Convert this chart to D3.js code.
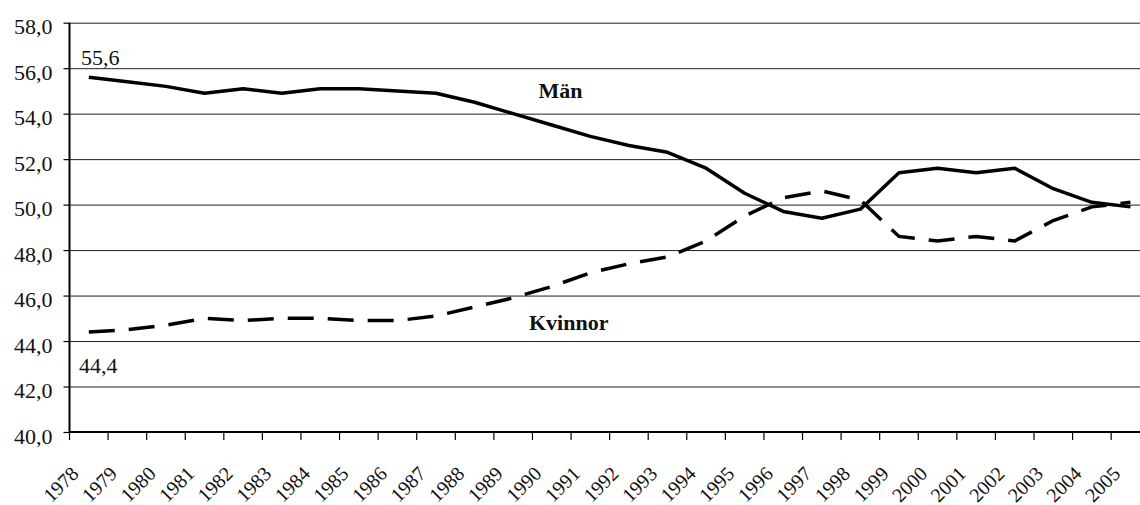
<!DOCTYPE html>
<html>
<head>
<meta charset="utf-8">
<script src="https://cdn.jsdelivr.net/npm/d3@7"></script>
<style>
  body { margin: 0; background: #fff; }
  svg { display: block; }
  svg text { font-family: "Liberation Serif", "Times New Roman", serif; fill: #111; }
</style>
</head>
<body>
<div id="container"></div>
<script>
/* DATA */
const years = ["1978","1979","1980","1981","1982","1983","1984","1985","1986","1987",
  "1988","1989","1990","1991","1992","1993","1994","1995","1996","1997",
  "1998","1999","2000","2001","2002","2003","2004","2005"]

const manValues = [55.6, 55.4, 55.2, 54.9, 55.1, 54.9, 55.1, 55.1, 55.0, 54.9,
  54.5, 54.0, 53.5, 53.0, 52.6, 52.3, 51.6, 50.5, 49.7, 49.4,
  49.8, 51.4, 51.6, 51.4, 51.6, 50.7, 50.1, 49.9]

const kvinnorValues = [44.4, 44.5, 44.7, 45.0, 44.9, 45.0, 45.0, 44.9, 44.9, 45.1,
  45.5, 45.9, 46.4, 47.0, 47.4, 47.7, 48.4, 49.5, 50.3, 50.6,
  50.2, 48.6, 48.4, 48.6, 48.4, 49.3, 49.9, 50.1]

const yTicks = [40, 42, 44, 46, 48, 50, 52, 54, 56, 58]

/* CONSTANTS AND GLOBALS */
var margin = {top: 22.7, left: 69.5},
    step = 38.58,
    width = years.length * step,   // runs past the right edge, as in the original
    height = 409.3;

const fmt = d => d.toFixed(1).replace(".", ",")

/* SCALES */
const xScale = d3.scaleBand()
  .domain(years)
  .range([0, width])

const yScale = d3.scaleLinear()
  .domain([40, 58])
  .range([height, 0])

/* HTML ELEMENTS */
const svg = d3.select("#container")
  .append("svg")
   .attr("width", 1140)
   .attr("height", 505)
  .append("g")
   .attr("transform", "translate(" + margin.left + "," + margin.top + ")")

// gridlines
svg.append("g")
  .call(d3.axisLeft(yScale).tickValues(yTicks).tickSize(-width).tickFormat(""))
  .call(g => g.select(".domain").remove())
  .call(g => g.selectAll("line").attr("stroke", "#222").attr("stroke-width", 1))

// y axis
svg.append("g")
  .call(d3.axisLeft(yScale).tickValues(yTicks).tickSize(6).tickPadding(11).tickFormat(fmt))
  .call(g => g.select(".domain").attr("stroke", "#000").attr("stroke-width", 2).attr("d", "M0," + height + "V0"))
  .call(g => g.selectAll("line").attr("stroke", "#000").attr("stroke-width", 1.2))
  .call(g => g.selectAll("text")
    .attr("font-size", 22)
    .attr("dy", "0.5em"))

// x axis
const xAxisGroup = svg.append("g")
  .attr("transform", "translate(0," + height + ")")
  .call(d3.axisBottom(xScale).tickSize(0))

xAxisGroup.select(".domain")
  .attr("stroke", "#000").attr("stroke-width", 2)
  .attr("d", "M0,0H" + width)

xAxisGroup.selectAll("text")
  .attr("font-size", 20)
  .attr("y", 0)
  .attr("dy", 0)
  .attr("text-anchor", "end")
  .attr("transform", "translate(-9,43) rotate(-45)")

// x ticks sit on the category boundaries
xAxisGroup.selectAll("line.boundary")
  .data(years)
  .join("line")
  .attr("class", "boundary")
  .attr("x1", d => xScale(d))
  .attr("x2", d => xScale(d))
  .attr("y1", 0)
  .attr("y2", 8)
  .attr("stroke", "#000")
  .attr("stroke-width", 1.2)

// lines
const line = d3.line()
  .x((d, i) => xScale(years[i]) + xScale.bandwidth() / 2)
  .y(d => yScale(d))

svg.append("path")
  .datum(kvinnorValues)
  .attr("d", line)
  .attr("fill", "none")
  .attr("stroke", "#000")
  .attr("stroke-width", 3.5)
  .attr("stroke-dasharray", "26,14")

svg.append("path")
  .datum(manValues)
  .attr("d", line)
  .attr("fill", "none")
  .attr("stroke", "#000")
  .attr("stroke-width", 3.5)
  .attr("stroke-linejoin", "round")

// labels
svg.append("text")
  .attr("x", xScale(years[0]) + 11.5)
  .attr("y", yScale(manValues[0]) - 12)
  .attr("font-size", 22)
  .text(fmt(manValues[0]))

svg.append("text")
  .attr("x", xScale(years[0]) + 9.5)
  .attr("y", yScale(kvinnorValues[0]) + 41)
  .attr("font-size", 22)
  .text(fmt(kvinnorValues[0]))

svg.append("text")
  .attr("x", xScale("1990") + 6)
  .attr("y", yScale(54.7))
  .attr("font-size", 22)
  .attr("font-weight", "bold")
  .text("Män")

svg.append("text")
  .attr("x", xScale("1990") - 3.5)
  .attr("y", yScale(44.5))
  .attr("font-size", 22)
  .attr("font-weight", "bold")
  .text("Kvinnor")
</script>
</body>
</html>
